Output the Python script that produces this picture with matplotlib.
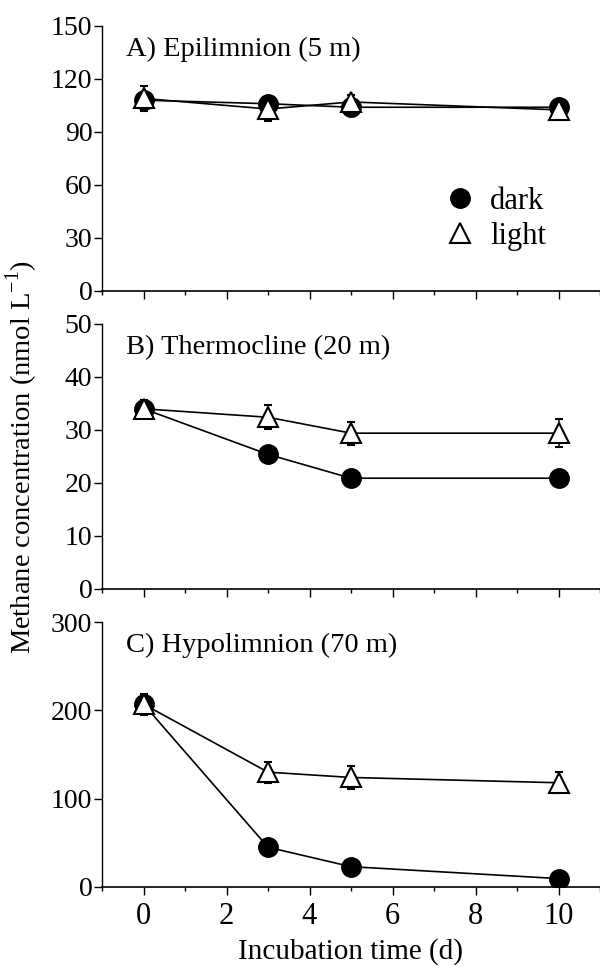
import matplotlib
matplotlib.use('Agg')
import matplotlib.pyplot as plt
from matplotlib.lines import Line2D
import numpy as np

plt.rcParams['font.family'] = ['Liberation Serif', 'DejaVu Serif']
plt.rcParams['mathtext.fontset'] = 'custom'
plt.rcParams['mathtext.rm'] = 'Liberation Serif'

# incubation days
days = [0, 3, 5, 10]

# A) Epilimnion (5 m)
epi_dark = [108, 106, 104, 104]
epi_dark_err = [4, 4, 5, 3]
epi_light = [109, 103, 107, 102.5]
epi_light_err = [7, 7, 4, 6]

# B) Thermocline (20 m)
thermo_dark = [34.0, 25.4, 20.9, 20.9]
thermo_dark_err = [1.3, 0.5, 0.4, 0.4]
thermo_light = [34.0, 32.4, 29.4, 29.4]
thermo_light_err = [1.7, 2.3, 2.2, 2.6]

# C) Hypolimnion (70 m)
hypo_dark = [207, 45, 23, 9.5]
hypo_dark_err = [10, 3, 3, 2]
hypo_light = [207, 130, 124, 118]
hypo_light_err = [12, 12, 13, 12]

panels = [
    ("A) Epilimnion (5 m)", epi_dark, epi_dark_err, epi_light, epi_light_err, 150, 30),
    ("B) Thermocline (20 m)", thermo_dark, thermo_dark_err, thermo_light, thermo_light_err, 50, 10),
    ("C) Hypolimnion (70 m)", hypo_dark, hypo_dark_err, hypo_light, hypo_light_err, 300, 100),
]

fig = plt.figure(figsize=(6, 9.66), dpi=100)
left, width, height = 0.17, 0.83, 0.2743
bottoms = [0.6988, 0.3903, 0.0818]

for i, (title, dk, dke, lt, lte, ymax, ystep) in enumerate(panels):
    ax = fig.add_axes([left, bottoms[i], width, height])
    ax.errorbar(days, dk, yerr=dke, color='black', lw=1.2, marker='o', ms=14,
                mfc='black', mec='black', capsize=3, elinewidth=1.1, zorder=3)
    ax.errorbar(days, lt, yerr=lte, color='black', lw=1.2, marker='^', ms=15,
                mfc='white', mec='black', mew=1.5, capsize=3, elinewidth=1.1,
                zorder=4)
    ax.set_xlim(-1, 11)
    ax.set_ylim(0, ymax)
    ax.set_yticks(np.arange(0, ymax + 1, ystep))
    ax.set_xticks([0, 2, 4, 6, 8, 10])
    ax.set_xticks([-1, 1, 3, 5, 7, 9, 11], minor=True)
    ax.spines['top'].set_visible(False)
    ax.spines['right'].set_visible(False)
    ax.spines['left'].set_linewidth(1.0)
    ax.spines['bottom'].set_linewidth(1.2)
    ax.tick_params(axis='y', direction='out', length=6, width=1, labelsize=20, pad=1)
    ax.tick_params(axis='x', which='major', direction='out', length=6, width=1, labelsize=22, pad=5)
    ax.tick_params(axis='x', which='minor', direction='out', length=3, width=1)
    if i < 2:
        ax.tick_params(axis='x', labelbottom=False)
    ax.text(0.048, 0.91, title, transform=ax.transAxes, fontsize=20.5,
            ha='left', va='center')
    if i == 0:
        handles = [
            Line2D([], [], ls='none', marker='o', ms=14, mfc='black', mec='black'),
            Line2D([], [], ls='none', marker='^', ms=15, mfc='white', mec='black', mew=1.5),
        ]
        ax.legend(handles, ['dark', 'light'], loc='center left',
                  bbox_to_anchor=(0.657, 0.273), frameon=False, fontsize=22,
                  handlelength=1.0, handletextpad=0.5, borderpad=0,
                  labelspacing=0.2)
    if i == 2:
        ax.set_xlabel('Incubation time (d)', fontsize=21, labelpad=5)

fig.text(0.037, 0.527, 'Methane concentration (nmol L$^{-1}$)', rotation=90,
         fontsize=20.5, ha='center', va='center')

fig.savefig('out.png', dpi=100)
